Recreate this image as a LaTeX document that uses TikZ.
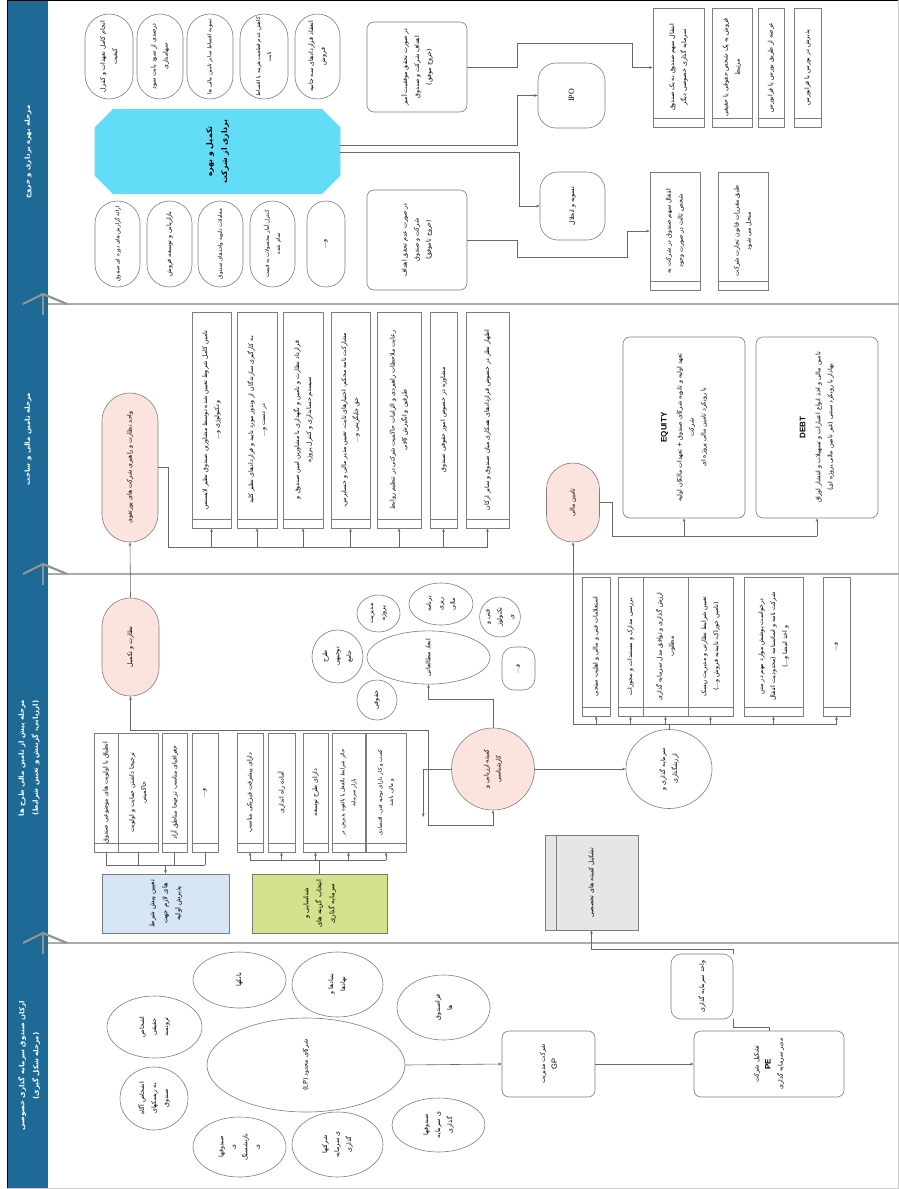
\documentclass[tikz,border=0pt]{standalone}
\usepackage{fontspec}
\setmainfont{DejaVu Sans}
\newfontfamily\arabicfont[Script=Arabic]{DejaVu Sans}
\newfontfamily\latsans{Liberation Sans}
\newfontfamily\latserif{Liberation Serif}
\TeXXeTstate=1
\usetikzlibrary{shapes.misc,shapes.geometric,arrows.meta,calc}
\newcommand{\fa}[1]{{\arabicfont\beginR #1\endR}}
\newcommand{\fs}{\fontsize{6.3}{12}\selectfont}
\newcommand{\fsm}{\fontsize{5.4}{11}\selectfont}
\newcommand{\fh}{\fontsize{7}{14}\selectfont\bfseries}
\definecolor{hdrblue}{RGB}{30,106,150}
\definecolor{cyanb}{RGB}{98,221,247}
\definecolor{pinkf}{RGB}{252,228,222}
\definecolor{lblue}{RGB}{214,230,245}
\definecolor{lgreen}{RGB}{214,225,140}
\definecolor{lgray}{RGB}{230,230,230}
\definecolor{bordgray}{RGB}{125,125,125}
\definecolor{linegray}{RGB}{105,105,105}
\definecolor{sepgray}{RGB}{170,170,170}
\begin{document}
\begin{tikzpicture}[x=1pt,y=-1pt,
  txt/.style={rotate=90, align=center, font=\fs, inner sep=1pt},
  bd/.style={draw=bordgray, line width=0.6pt},
  box/.style={txt, bd, rectangle, fill=white},
  stad/.style={txt, bd, rounded rectangle, fill=white},
  rbox/.style={txt, bd, rectangle, rounded corners=7pt, fill=white},
  bub/.style={txt, bd, ellipse, inner sep=0pt, fill=white},
  sz/.style 2 args={minimum height=#1pt, minimum width=#2pt},
  ln/.style={draw=linegray, line width=0.6pt},
  conn/.style={ln, -{Stealth[length=3.5pt,width=2.6pt]}},
  hdrtxt/.style={rotate=90, align=center, font=\fh, text=white, inner sep=1pt},
  sepline/.style={draw=sepgray, line width=1.2pt},
  chev/.style={draw=gray!85, line width=2.2pt}
]
\useasboundingbox (0,0) rectangle (899,1189);
\fill[white] (0,0) rectangle (899,1189);
% header band and frame
\fill[hdrblue] (8,0) rectangle (48,1189);
\draw[black, line width=1.3pt] (7,0.7) -- (899,0.7);
\draw[black, line width=1.3pt] (7.5,0) -- (7.5,1189);
\draw[gray!40, line width=0.8pt] (7,1188.4) -- (899,1188.4);
\draw[gray!40, line width=0.8pt] (898.5,0) -- (898.5,1189);
% separators
\foreach \s in {304,574,943}{
  \draw[sepline] (48,\s) -- (899,\s);
  \draw[chev] (23,\s) -- (43,\s-10) -- (67,\s);
  \draw[chev] (43,\s-10) -- (43,\s+11);
}
% header texts
\node[hdrtxt] (h1) at (28,152) {\fa{مرحله بهره برداری و خروج}};
\node[hdrtxt] (h2) at (28,439) {\fa{مرحله تامین مالی و ساخت}};
\node[hdrtxt] (h3) at (29,758) {\fa{مرحله پیش از تامین مالی طرح ها}\\\fa{(ارزیابی، گزینش و تعیین شرایط)}};
\node[hdrtxt] (h4) at (29,1066) {\fa{ارکان صندوق سرمایه گذاری خصوصی}\\\fa{(مرحله شکل گیری)}};

% ================= Row 1 =================
\node[stad, sz={48}{87}] (t1) at (109,56.5) {\fa{انجام کامل تعهدات و کنترل}\\\fa{کیفیت}};
\node[stad, sz={46}{87}] (t2) at (160,56.5) {\fa{درصدی از سود بابت سود}\\\fa{سهامداری}};
\node[stad, sz={46}{87}, font=\fsm] (t3) at (210,56.5) {\fa{تسویه اقساط سایر تامین مالی ها}};
\node[stad, sz={48}{87}, font=\fsm] (t4) at (264,56.5) {\fa{کاهش عدم قطعیت هزینه یا اقساط}\\\fa{ثابت}};
\node[stad, sz={45}{87}] (t5) at (317.5,56.5) {\fa{انعقاد قراردادهای سه جانبه}\\\fa{فروش}};
\node[stad, sz={45}{88}, font=\fsm] (b1) at (117.5,244) {\fa{ارائه گزارش های دوره ای صندوق}};
\node[stad, sz={45}{88}] (b2) at (169.5,244) {\fa{بازاریابی و توسعه فروش}};
\node[stad, sz={45}{88}, font=\fsm] (b3) at (220.5,244) {\fa{معاملات ثانویه واحدهای صندوق}};
\node[stad, sz={45}{88}, font=\fsm] (b4) at (272.5,244) {\fa{کنترل آمار محصولات به قیمت}\\\fa{تمام شده}};
\node[stad, sz={38}{88}] (b5) at (326,244) {\fa{و...}};
\node[txt, bd, fill=cyanb, draw=cyanb, chamfered rectangle, chamfered rectangle xsep=9pt, chamfered rectangle ysep=9pt, sz={245}{69}, font=\fontsize{7.8}{15}\selectfont\bfseries] (bb) at (217.5,151.5) {\fa{تکمیل و بهره}\\\fa{برداری از شرکت}};
\node[rbox, sz={100}{90}] (c1) at (417,67) {\fa{در صورت تحقق موفقیت آمیز}\\\fa{اهداف شرکت و صندوق}\\\fa{(خروج موفق)}};
\node[rbox, sz={100}{100}] (c2) at (417,240) {\fa{در صورت عدم تحقق اهداف}\\\fa{شرکت و صندوق}\\\fa{(خروج ناموفق)}};
\node[rbox, rounded corners=18pt, sz={67}{65}, font=\latserif\fontsize{8}{10}\selectfont] (ipo) at (571.5,95.5) {IPO};
\node[rbox, rounded corners=18pt, sz={65}{68}] (tas) at (572.5,206) {\fa{تسویه و انحلال}};
\node[box, sz={51}{119}] (e1) at (678.5,67.5) {\fa{انتقال سهم صندوق به یک صندوق}\\\fa{سرمایه گذاری خصوصی دیگر}};
\node[box, sz={40}{119}] (e2) at (732,67.5) {\fa{فروش به یک شخص حقوقی یا حقیقی}\\\fa{مرتبط}};
\node[box, sz={26}{119}] (e3) at (771,67.5) {\fa{عرضه از طریق بورس یا فرابورس}};
\node[box, sz={27}{119}] (e4) at (807.5,67.5) {\fa{پذیرش در بورس یا فرابورس}};
\node[box, sz={50}{118}] (e5) at (675,231) {\fa{انتقال سهم صندوق در شرکت به}\\\fa{شخص ثالث در صورت وجود}};
\node[box, sz={50}{118}] (e6) at (743,231) {\fa{طبق مقررات قانون تجارت شرکت}\\\fa{منحل می شود}};
\draw[conn] ($(bb.south)+(0,-6.5)$) -- ++(177,0) |- (ipo.north);
\draw[conn] ($(bb.south)+(0,0.5)$) -- ++(179,0) |- (tas.north);
\draw[conn] (c1.south) -- ++(50,0) -- ++(0,-24) -- ++(115,0) |- (e1.north);
\draw[conn] (c2.south) -- ++(50,0) -- ++(0,17) -- ++(110,0) |- (e5.north);

% ================= Row 2 =================
\node[stad, fill=pinkf, sz={56}{151}] (p2) at (130,467.5) {\fa{واحد نظارت و راهبری شرکت های پورتفوی}};
\node[box, sz={39}{216}] (r1) at (211.5,420) {\fa{تامین کامل شروط تعیین شده توسط مشاورین صندوق نظیر لایسنس}\\\fa{و تکنولوژی و...}};
\node[box, sz={40}{216}] (r2) at (257,420) {\fa{به کارگیری سازندگان از وندور مورد تایید و قراردادهای نظیر کلید}\\\fa{در دست و...}};
\node[box, sz={40}{216}] (r3) at (303,420) {\fa{قرارداد نظارت و تامین و نگهداری با مشاورین امین صندوق و}\\\fa{سیستم حسابداری و کنترل پروژه}};
\node[box, sz={39}{216}] (r4) at (350.5,420) {\fa{مشارکت نامه محکم، اختیارهای ثابت، تعیین مدیر مالی و حسابرس،}\\\fa{حق جایگزینی و...}};
\node[box, sz={44}{216}] (r5) at (399,420) {\fa{رعایت ملاحظات راهبردی و الزامات حاکمیت شرکتی در تنظیم روابط}\\\fa{طرفین و انگیزش کافی}};
\node[box, sz={27}{216}] (r6) at (443.5,420) {\fa{مشاوره در خصوص امور حقوقی صندوق}};
\node[box, sz={43}{216}] (r7) at (487.5,420) {\fa{اظهار نظر در خصوص قراردادهای همکاری میان صندوق و سایر ارکان}};
\node[stad, fill=pinkf, sz={53}{81}] (tm) at (573,502.5) {\fa{تامین مالی}};
\node[rbox, sz={122}{181}] (eq) at (684,427.5) {{\latsans\bfseries\fontsize{8}{12}\selectfont EQUITY}\\[3pt]\fa{تعهد اولیه و ثانویه شرکای صندوق + تعهدات مالکان اولیه}\\\fa{شرکت}\\\fa{با رویکرد تامین مالی پروژه ای}};
\node[rbox, sz={122}{181}] (debt) at (817,427.5) {{\latsans\bfseries\fontsize{8}{12}\selectfont DEBT}\\[3pt]\fa{تامین مالی و اخذ انواع اعتبارات و تسهیلات و انتشار اوراق}\\\fa{بهادار با رویکرد سنتی (غیر تامین مالی پروژه ای)}};
\coordinate (b2) at (168,547);
\draw[ln] (p2.south) -| (b2) -- (b2 -| r7.west);
\foreach \n in {r1,r2,r3,r4,r5,r6,r7} \draw[conn] (b2 -| \n.west) -- (\n.west);
\coordinate (b2r) at (612,536);
\draw[ln] (tm.south) -| (b2r) -- (b2r -| debt.west);
\draw[conn] (b2r -| eq.west) -- (eq.west);
\draw[conn] (b2r -| debt.west) -- (debt.west);

% ================= Row 3 =================
\node[stad, fill=pinkf, sz={57}{100}] (nt) at (130.5,647) {\fa{نظارت و تکمیل}};
\draw[conn] (nt.east) -- (p2.west);
\node[box, sz={24}{119}] (a1) at (106,792.5) {\fa{انطباق با اولویت های موضوعی صندوق}};
\node[box, sz={40}{119}] (a2) at (138,792.5) {\fa{ترجیحا داشتن حمایت و اولویت}\\\fa{حاکمیتی}};
\node[box, sz={25}{119}] (a3) at (174.5,792.5) {\fa{جغرافیای مناسب ترجیحا مناطق آزاد}};
\node[box, sz={26}{119}] (a4) at (205,792.5) {\fa{و...}};
\node[box, fill=lblue, sz={127}{59}, font=\fontsize{6.8}{13}\selectfont] (pb) at (165.5,903.5) {\fa{تعیین پیش شرط}\\\fa{های لازم جهت}\\\fa{پذیرش اولیه}};
\coordinate (busA) at (0,865);
\draw[ln] (a1.west |- busA) -- (a4.west |- busA);
\foreach \n in {a1,a2,a3,a4} \draw[ln] (\n.west) -- (\n.west |- busA);
\draw[conn] (pb.east |- busA) -- (pb.east);
\node[box, sz={26}{119}] (g1) at (250,792.5) {\fa{دارای پیشرفت فیزیکی مناسب}};
\node[box, sz={27}{119}] (g2) at (281.5,792.5) {\fa{آماده راه اندازی}};
\node[box, sz={25}{119}] (g3) at (315.5,792.5) {\fa{دارای طرح توسعه}};
\node[box, sz={33}{119}, font=\fsm] (g4) at (348.5,792.5) {\fa{حائز شرایط بالفعل یا بالقوه پذیرش در}\\\fa{بازار سرمایه}};
\node[box, sz={40}{119}, font=\fsm] (g5) at (386,792.5) {\fa{کسب و کار دارای توجیه فنی، اقتصادی}\\\fa{و مالی باشد}};
\node[box, fill=lgreen, sz={135}{59}, font=\fontsize{6.8}{13}\selectfont] (gb) at (319.5,903.5) {\fa{شناسایی و}\\\fa{انتخاب گزینه های}\\\fa{سرمایه گذاری}};
\coordinate (busG) at (0,860);
\draw[ln] (gb.east) -- (gb.east |- busG);
\draw[ln] (g1.west |- busG) -- (g5.west |- busG);
\foreach \n in {g1,g2,g3,g4,g5} \draw[conn] (\n.west |- busG) -- (\n.west);
% study dimensions
\node[bub, fill=pinkf, sz={83}{82}] (ke) at (493,769) {\fa{کمیته ارزیابی و}\\\fa{کارشناسی}};
\node[bub, sz={123}{51}] (ab) at (428.5,657.5) {\fa{ابعاد مطالعاتی}};
\node[bub, sz={40}{40}] (hq) at (377,700) {\fa{حقوقی}};
\node[bub, sz={51}{53}] (tj) at (337.5,656.5) {\fa{طرح}\\\fa{توجیهی}\\\fa{جامع}};
\node[bub, sz={43}{37}] (mp) at (378.5,613.5) {\fa{مدیریت}\\\fa{پروژه}};
\node[bub, sz={64}{42}] (bm) at (441,604) {\fa{برنامه}\\\fa{ریزی}\\\fa{مالی}};
\node[bub, sz={40}{40}] (ft) at (500,617) {\fa{فنی و}\\\fa{تکنولوژ}\\\fa{ی}};
\node[rbox, rounded corners=12pt, sz={33}{43}] (vo) at (518.5,668.5) {\fa{و...}};
\draw[conn] (ke.east) -- ++(0,-28) -| (ab.west);
\coordinate (b3) at (428,730);
\coordinate (b3b) at (428,825);
\draw[conn] (b3b) -- (b3) -| (nt.west);
\draw[conn] (b3b) -| (ke.west);
\draw[conn] (ke.north) -- ++(-28,0) -- ++(0,48);
% investment & valuation
\node[bub, sz={86}{79}] (sa) at (669,769) {\fa{سرمایه گذاری و}\\\fa{ارزشگذاری}};
\draw[conn] (ke.south) -- (sa.north);
\node[box, sz={28}{139}] (s1) at (596,646.5) {\fa{استعلامات فنی و مالی و اهلیت سنجی}};
\node[box, sz={25}{139}] (s2) at (630.5,646.5) {\fa{بررسی مدارک و مستندات و مجوزات}};
\node[box, sz={45}{139}] (s3) at (665.5,646.5) {\fa{ارزش گذاری و توافق مدل سرمایه گذاری}\\\fa{مطلوب}};
\node[box, sz={45}{139}] (s4) at (710.5,646.5) {\fa{تعیین شرایط نظارتی و مدیریت ریسک}\\\fa{(تامین خوراک، تاییدیه فروش و...)}};
\node[box, sz={59}{139}] (s5) at (773.5,646.5) {\fa{درخواست پوشش موارد مهم در متن}\\\fa{شرکت نامه و اساسنامه (محدودیت انتقال}\\\fa{و اخذ امضا و...)}};
\node[box, sz={27}{139}] (s6) at (836.5,646.5) {\fa{و...}};
\coordinate (b3r) at (573,724);
\draw[ln] (sa.east) -- (sa.east |- b3r);
\draw[ln] (b3r) -- (b3r -| s6.west);
\draw[conn] (b3r) -- (tm.west);
\foreach \n in {s1,s2,s3,s4,s5,s6} \draw[conn] (b3r -| \n.west) -- (\n.west);
\node[box, fill=lgray, sz={93}{95}] (gk) at (591.5,882.5) {\fa{تشکیل کمیته های تخصصی}};
\draw[bd] ($(gk.north east)+(12,0)$) -- ($(gk.north west)+(12,0)$);

% footers of process boxes
\foreach \n in {e1,e2,e3,e4,e5,e6,r1,r2,r3,r4,r5,r6,r7,a1,a2,a3,a4,g1,g2,g3,g4,g5,s1,s2,s3,s4,s5,s6}
  \draw[bd] ($(\n.north west)+(0,-9)$) -- ($(\n.south west)+(0,-9)$);

% ================= Row 4 =================
\node[bub, sz={198}{94}] (lp) at (306,1065) {\fa{شرکای محدود (\beginL LP\endL)}};
\node[bub, sz={93}{56}] (bk) at (239.5,980) {\fa{بانکها}};
\node[bub, sz={91}{65}] (bn) at (337.5,984.5) {\fa{بنیادها و}\\\fa{نهادها}};
\node[bub, sz={93}{65}] (fsd) at (443.5,1007.5) {\fa{فراصندوق}\\\fa{ها}};
\node[bub, sz={93}{54}] (sf) at (438.5,1125) {\fa{صندوقها}\\\fa{ی سرمایه}\\\fa{گذاری}};
\node[bub, sz={91}{65}] (sh) at (337.5,1144.5) {\fa{شرکتها}\\\fa{ی سرمایه}\\\fa{گذاری}};
\node[bub, sz={93}{60}] (sb) at (239.5,1147) {\fa{صندوقها}\\\fa{ی}\\\fa{بازنشستگ}\\\fa{ی}};
\node[bub, sz={95}{62}] (as) at (154.5,1027) {\fa{اشخاص}\\\fa{حقیقی}\\\fa{ثروتمند}};
\node[bub, sz={68}{63}] (ag) at (154,1098.5) {\fa{اشخاص آگاه}\\\fa{به ریسکهای}\\\fa{صندوق}};
\node[rbox, sz={93}{66}] (gp) at (548.5,1064) {\fa{شرکت مدیریت}\\{\latsans\fontsize{7.5}{10}\selectfont GP}};
\node[rbox, sz={150}{66}] (pe) at (769,1064) {\fa{تشکیل شرکت}\\{\latsans\bfseries\fontsize{8}{10}\selectfont PE}\\\fa{مدیر سرمایه گذاری}};
\node[rbox, rounded corners=10pt, sz={62}{65}] (vs) at (702,986.5) {\fa{واحد سرمایه گذاری}};
\draw[conn] (lp.south) -- (gp.north);
\draw[conn] (gp.south) -- (pe.north);
\draw[conn] (vs.south east) -- ++(0,-4) -| (gk.west);
\draw[ln] (vs.south west) -- ++(0,8) -| (pe.east);
\end{tikzpicture}
\end{document}
